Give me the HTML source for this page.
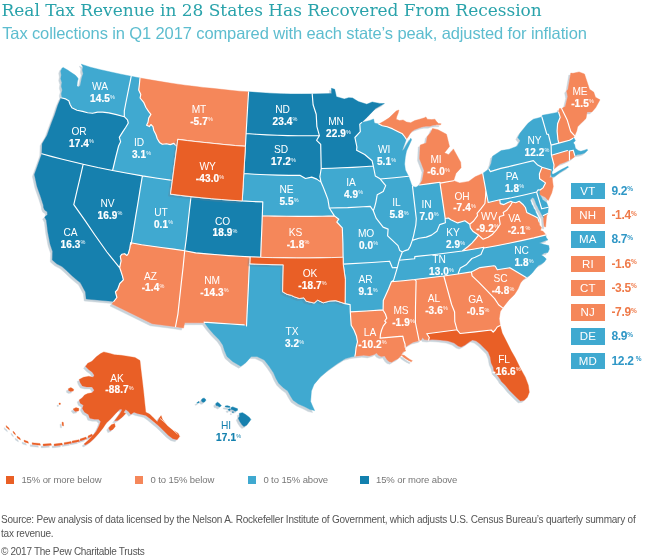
<!DOCTYPE html>
<html><head><meta charset="utf-8"><title>Real Tax Revenue</title>
<style>
html,body{margin:0;padding:0;background:#fff}
body{width:650px;height:558px;position:relative;overflow:hidden;font-family:"Liberation Sans",sans-serif}
.map{position:absolute;left:0;top:0}
h1{position:absolute;left:1.5px;top:-0.6px;margin:0;font:400 17px/22px "DejaVu Serif","Liberation Serif",serif;color:#2aa3ab;white-space:nowrap;letter-spacing:-.02px}
h2{position:absolute;left:2.2px;top:22.7px;margin:0;font:400 16.5px/20px "Liberation Sans",sans-serif;color:#5dbdcf;white-space:nowrap;letter-spacing:-.115px}
.lb{position:absolute;width:60px;text-align:center;color:#fff;white-space:nowrap}
.lb span{display:block;font-size:10.2px;line-height:12px;letter-spacing:-.1px;position:relative;top:.9px}
.lb b{display:block;font-size:10px;line-height:12px;letter-spacing:.15px;padding-left:5px;position:relative;top:0.6px;-webkit-text-stroke:.2px currentColor}
.lb sup{font-size:5.5px;vertical-align:top;position:relative;top:-.4px;line-height:8px;letter-spacing:0;-webkit-text-stroke:0;font-weight:normal}
.bv sup{font-size:6.5px;vertical-align:top;position:relative;top:1.6px;line-height:9px;letter-spacing:0}
.lb.hi{color:#1380ae}
.bx{position:absolute;left:570.8px;width:34.1px;height:16.6px;color:#fff;font-size:11.5px;line-height:17px;text-align:center;letter-spacing:.2px}
.bv{position:absolute;left:611.4px;font-size:12px;font-weight:bold;line-height:17px;white-space:nowrap;letter-spacing:-.3px}
.lg{position:absolute;top:474.1px;font-size:9.5px;line-height:12px;color:#777;white-space:nowrap;letter-spacing:-.1px}
.lg i{position:absolute;left:-15.9px;top:1.9px;width:8.5px;height:8.5px}
.src{position:absolute;left:1px;top:513.2px;font-size:10px;line-height:13.5px;color:#555;white-space:nowrap;letter-spacing:-.22px}
.cp{position:absolute;left:1px;top:544.8px;font-size:10px;line-height:13px;color:#555;white-space:nowrap;letter-spacing:-.29px}
</style></head><body>
<svg class="map" width="650" height="558" viewBox="0 0 650 558">
<defs><filter id="sh" x="-5%" y="-5%" width="110%" height="110%"><feGaussianBlur in="SourceAlpha" stdDeviation="0.7"/><feOffset dx="-1.8" dy="1.8" result="o"/><feFlood flood-color="#5f7f93" flood-opacity="0.34"/><feComposite in2="o" operator="in"/><feMerge><feMergeNode/><feMergeNode in="SourceGraphic"/></feMerge></filter></defs>
<g filter="url(#sh)">
<g stroke-width="0.4" stroke-linejoin="round">
<path d="M61.0 97.8L61.9 97.0L61.3 93.9L62.3 90.1L61.3 86.3L61.9 82.6L60.7 78.8L61.3 75.1L60.7 71.3L61.9 68.2L63.2 67.5L67.6 70.0L71.3 72.6L75.1 75.1L77.0 76.9L78.2 78.8L77.3 82.0L77.0 85.7L78.2 87.0L80.1 85.7L80.7 83.2L81.3 80.1L82.0 76.9L83.2 73.8L82.4 70.0L82.9 66.9L81.3 64.2L90.4 67.2L100.5 69.7L110.7 72.0L120.9 74.2L131.2 76.3L128.5 89.6L125.8 103.0L124.3 110.8L124.3 116.7L116.5 114.6L108.9 112.9L102.7 112.1L97.6 112.1L92.6 113.3L87.6 112.7L82.6 111.4L77.0 110.2L71.9 107.7L70.1 104.5L68.8 100.8L65.7 98.9L61.0 97.8Z" fill="#3fa9d0" stroke="#3fa9d0"/>
<path d="M41.8 153.8L42.1 143.8L47.1 135.2L51.3 123.5L54.8 114.4L57.8 105.3L61.0 97.8L65.7 98.9L68.8 100.8L70.1 104.5L71.9 107.7L77.0 110.2L82.6 111.4L87.6 112.7L92.6 113.3L97.6 112.1L102.7 112.1L108.9 112.9L116.5 114.6L124.3 116.7L127.5 119.8L128.3 123.0L125.8 127.3L122.9 131.6L119.3 137.4L120.6 141.7L118.6 146.0L115.8 157.0L112.6 170.5L97.8 167.5L83.2 164.2L72.8 161.8L62.4 159.2L52.1 156.6L41.8 153.8Z" fill="#1380ae" stroke="#1380ae"/>
<path d="M86.2 299.0L85.4 292.0L80.4 282.8L76.3 279.6L71.4 275.2L66.5 270.5L62.0 266.6L56.6 263.8L52.3 259.9L52.6 251.5L50.1 244.0L47.8 232.0L46.4 220.5L44.6 217.0L47.4 214.8L47.2 211.8L44.8 210.2L43.6 207.7L43.3 205.0L40.4 196.0L37.0 186.5L34.4 174.6L37.2 166.7L41.8 153.8L52.1 156.6L62.4 159.2L72.8 161.8L83.2 164.2L80.1 177.7L76.9 191.2L73.8 204.7L84.6 219.9L94.7 234.8L106.9 252.0L119.7 267.8L121.1 271.8L122.5 276.2L123.4 279.8L119.8 283.5L117.6 289.5L115.4 291.8L116.9 297.5L113.8 301.5L86.2 299.0Z" fill="#1380ae" stroke="#1380ae"/>
<path d="M119.7 267.8L106.9 252.0L94.7 234.8L84.6 219.9L73.8 204.7L76.9 191.2L80.1 177.7L83.2 164.2L97.8 167.5L112.6 170.5L127.5 173.3L142.4 175.9L140.1 189.6L137.9 203.3L135.6 216.9L133.4 230.6L131.1 244.3L130.7 242.7L129.8 248.4L128.4 253.5L126.9 255.5L124.7 253.7L121.8 254.2L120.3 256.4L121.1 260.8L120.3 264.5L119.7 267.8Z" fill="#1380ae" stroke="#1380ae"/>
<path d="M124.3 116.7L124.3 110.8L125.8 103.0L128.5 89.6L131.2 76.3L140.0 78.0L139.4 84.3L138.7 90.1L140.8 94.4L140.1 98.0L143.7 102.3L145.8 107.3L148.7 111.6L150.9 114.4L148.7 118.0L148.0 122.3L146.6 125.2L149.4 126.6L150.9 124.5L153.0 126.6L153.7 130.2L155.9 134.5L157.3 138.8L159.5 142.4L162.3 144.3L166.6 143.8L170.2 144.6L173.8 143.4L176.9 146.5L174.2 166.7L172.4 180.4L157.4 178.3L142.4 175.9L127.5 173.3L112.6 170.5L115.8 157.0L118.6 146.0L120.6 141.7L119.3 137.4L122.9 131.6L125.8 127.3L128.3 123.0L127.5 119.8L124.3 116.7Z" fill="#3fa9d0" stroke="#3fa9d0"/>
<path d="M176.9 146.5L173.8 143.4L170.2 144.6L166.6 143.8L162.3 144.3L159.5 142.4L157.3 138.8L155.9 134.5L153.7 130.2L153.0 126.6L150.9 124.5L149.4 126.6L146.6 125.2L148.0 122.3L148.7 118.0L150.9 114.4L148.7 111.6L145.8 107.3L143.7 102.3L140.1 98.0L140.8 94.4L138.7 90.1L139.4 84.3L140.0 78.0L148.9 79.6L157.9 81.1L166.9 82.6L176.0 83.9L185.0 85.2L194.0 86.3L203.1 87.4L212.2 88.3L221.3 89.3L230.3 90.3L239.4 91.2L248.6 91.8L247.7 105.7L246.9 119.6L246.1 133.5L245.4 146.3L235.7 145.6L226.0 144.7L216.4 143.7L206.7 142.7L197.1 141.7L187.4 140.6L177.8 139.4L176.9 146.5Z" fill="#f5875a" stroke="#f5875a"/>
<path d="M131.1 244.3L133.4 230.6L135.6 216.9L137.9 203.3L140.1 189.6L142.4 175.9L157.4 178.3L172.4 180.4L170.5 194.1L180.7 195.4L191.0 196.6L189.4 210.4L187.9 224.1L186.4 237.9L184.7 250.7L173.8 249.1L163.1 247.8L152.3 246.3L141.6 244.7L130.7 242.7Z" fill="#3fa9d0" stroke="#3fa9d0"/>
<path d="M191.0 196.6L201.2 197.7L211.4 198.7L221.6 199.5L231.9 200.3L242.2 200.9L252.4 201.5L262.8 201.9L262.3 215.8L261.8 229.6L261.2 243.5L260.7 257.3L260.8 257.3L250.3 256.9L239.4 256.3L228.5 255.6L217.5 254.8L206.6 253.9L195.7 252.9L184.7 250.7L186.4 237.9L187.9 224.1L189.4 210.4L191.0 196.6Z" fill="#1380ae" stroke="#1380ae"/>
<path d="M113.8 301.5L116.9 297.5L115.4 291.8L117.6 289.5L119.8 283.5L123.4 279.8L122.5 276.2L121.1 271.8L119.7 267.8L120.3 264.5L121.1 260.8L120.3 256.4L121.8 254.2L124.7 253.7L126.9 255.5L128.4 253.5L129.8 248.4L130.7 242.7L141.6 244.7L152.3 246.3L163.1 247.8L173.8 249.1L184.7 250.7L183.1 267.3L181.3 282.9L179.6 298.5L177.9 314.1L175.5 326.7L152.3 323.8L112.0 304.0L113.8 301.5Z" fill="#f5875a" stroke="#f5875a"/>
<path d="M175.5 326.7L177.9 314.1L179.6 298.5L181.3 282.9L183.1 267.3L184.7 250.7L195.7 252.9L206.6 253.9L217.5 254.8L228.5 255.6L239.4 256.3L250.3 256.9L250.0 263.8L249.4 263.8L248.7 279.4L248.0 294.9L247.2 310.5L246.5 326.0L244.2 324.9L230.8 324.0L217.5 323.1L204.2 322.1L204.5 322.7L184.7 322.8L183.5 328.1L175.5 326.7Z" fill="#f5875a" stroke="#f5875a"/>
<path d="M246.1 133.5L246.9 119.6L247.7 105.7L248.6 91.8L258.9 92.6L269.5 93.2L280.1 93.7L290.8 94.0L301.6 94.0L312.2 93.9L313.1 104.8L316.2 114.3L316.9 126.6L319.4 135.6L308.9 135.7L298.3 135.8L287.7 135.6L277.2 135.3L266.8 134.9L256.3 134.3L246.1 133.5Z" fill="#1380ae" stroke="#1380ae"/>
<path d="M245.4 146.3L246.1 133.5L256.3 134.3L266.8 134.9L277.2 135.3L287.7 135.6L298.3 135.8L308.9 135.7L319.4 135.6L316.6 140.3L320.7 144.3L321.2 168.5L319.9 176.6L321.0 182.1L316.8 179.1L311.7 177.1L305.5 178.5L300.3 175.4L288.9 175.4L277.4 175.1L266.1 174.7L254.8 174.2L243.8 173.5L244.6 159.9L245.4 146.3Z" fill="#1380ae" stroke="#1380ae"/>
<path d="M242.2 200.9L243.0 187.2L243.8 173.5L254.8 174.2L266.1 174.7L277.4 175.1L288.9 175.4L300.3 175.4L305.5 178.5L311.7 177.1L316.8 179.1L321.0 182.1L322.7 185.9L325.4 192.7L327.9 199.4L329.3 208.0L334.4 215.9L322.5 216.2L310.4 216.4L298.4 216.4L286.3 216.3L274.2 216.1L262.3 215.8L262.8 201.9L252.4 201.5L242.2 200.9Z" fill="#3fa9d0" stroke="#3fa9d0"/>
<path d="M260.7 257.3L261.2 243.5L261.8 229.6L262.3 215.8L274.2 216.1L286.3 216.3L298.4 216.4L310.4 216.4L322.5 216.2L334.4 215.9L338.8 219.2L336.8 222.0L342.3 227.8L342.9 243.3L343.1 257.2L331.5 257.6L319.8 257.9L308.0 258.0L296.2 258.0L284.4 257.9L272.5 257.7L260.8 257.3Z" fill="#f5875a" stroke="#f5875a"/>
<path d="M204.5 322.7L204.2 322.1L217.5 323.1L230.8 324.0L244.2 324.9L246.5 326.0L247.2 310.5L248.0 294.9L248.7 279.4L249.4 263.8L250.0 263.8L261.0 264.3L272.0 264.6L283.3 264.8L282.6 291.7L287.0 294.3L291.5 295.4L294.3 296.8L299.4 298.5L303.9 297.8L306.2 301.2L314.1 303.0L317.6 300.1L323.2 302.8L330.0 301.0L335.7 300.6L345.0 303.6L350.1 304.6L350.3 311.9L351.2 325.2L354.0 330.0L356.5 336.3L357.5 341.9L356.1 347.5L355.4 353.8L354.9 356.2L351.9 356.8L345.4 358.6L337.5 363.6L328.4 370.1L320.5 376.7L314.0 384.5L311.4 391.1L310.6 401.5L312.5 406.0L314.6 410.6L310.0 409.5L304.8 406.8L298.5 404.0L293.1 400.2L290.5 396.0L287.8 391.1L283.0 387.5L278.7 383.2L276.0 378.5L273.5 372.8L269.0 366.0L264.3 360.0L257.0 356.5L251.2 356.5L246.0 362.5L240.8 366.2L233.0 361.8L227.0 356.5L224.5 350.5L222.8 345.0L219.4 339.9L213.5 334.0L208.4 328.1L204.5 322.7Z" fill="#3fa9d0" stroke="#3fa9d0"/>
<path d="M319.4 135.6L316.9 126.6L316.2 114.3L313.1 104.8L312.2 93.9L331.6 93.5L331.4 88.3L334.7 89.3L336.4 96.7L344.3 99.0L348.8 97.7L352.5 97.9L358.3 101.6L366.8 104.2L372.2 102.0L379.7 103.4L384.4 103.6L375.5 108.5L366.9 117.4L361.6 122.6L359.8 124.1L360.3 131.6L354.9 137.5L356.9 147.0L356.6 150.3L364.7 154.5L372.1 160.8L373.3 166.0L362.9 166.8L352.6 167.4L342.2 167.8L331.8 168.2L321.2 168.5L320.7 144.3L316.6 140.3L319.4 135.6Z" fill="#1380ae" stroke="#1380ae"/>
<path d="M321.2 168.5L331.8 168.2L342.2 167.8L352.6 167.4L362.9 166.8L373.3 166.0L375.3 176.0L380.1 178.8L385.7 185.6L383.2 191.5L377.2 194.8L375.9 202.1L374.6 207.1L373.3 210.8L370.3 206.4L363.2 206.8L347.7 207.6L329.3 208.0L327.9 199.4L325.4 192.7L322.7 185.9L321.0 182.1L319.9 176.6L321.2 168.5Z" fill="#3fa9d0" stroke="#3fa9d0"/>
<path d="M329.3 208.0L347.7 207.6L363.2 206.8L370.3 206.4L373.3 210.8L376.1 218.1L383.1 227.1L388.1 229.1L387.6 235.8L392.2 240.2L398.0 245.6L399.8 250.6L402.3 252.0L399.2 260.3L397.4 267.4L392.4 267.8L389.6 261.2L371.8 262.5L343.2 264.1L343.1 257.2L342.9 243.3L342.3 227.8L336.8 222.0L338.8 219.2L334.4 215.9L329.3 208.0Z" fill="#3fa9d0" stroke="#3fa9d0"/>
<path d="M343.2 264.1L371.8 262.5L389.6 261.2L392.4 267.8L397.4 267.4L393.6 280.2L391.4 281.8L388.5 289.0L383.3 300.5L383.1 310.2L383.1 309.9L366.7 311.0L350.3 311.9L350.1 304.6L345.0 303.6L345.3 279.4L343.2 264.1Z" fill="#3fa9d0" stroke="#3fa9d0"/>
<path d="M350.3 311.9L366.7 311.0L383.1 309.9L383.1 310.2L385.4 314.0L386.8 318.2L384.7 321.0L386.1 322.4L383.3 325.9L381.6 330.0L380.5 334.2L380.1 338.1L402.8 336.1L403.8 340.5L405.0 344.0L405.2 347.3L405.0 349.2L405.7 351.0L402.9 352.0L401.5 354.5L403.2 357.0L405.7 358.7L408.5 360.4L411.3 361.8L412.4 360.8L409.9 359.4L407.1 357.6L404.6 355.6L402.2 354.8L400.1 356.6L398.0 358.7L395.2 360.1L391.7 362.2L388.9 361.5L386.8 359.4L384.7 355.9L381.2 356.6L378.4 355.2L376.6 353.1L374.2 354.5L369.3 355.9L363.8 355.2L358.2 355.9L354.9 356.2L355.4 353.8L356.1 347.5L357.5 341.9L356.5 336.3L354.0 330.0L351.2 325.2L350.3 311.9Z" fill="#f5875a" stroke="#f5875a"/>
<path d="M361.6 122.6L369.9 120.4L373.6 119.0L374.4 123.0L378.8 124.1L382.3 125.7L387.2 126.8L392.7 128.9L398.2 131.7L402.4 133.8L404.5 136.5L406.3 139.3L405.0 143.0L403.5 147.0L402.2 151.0L404.2 149.0L407.0 144.0L410.8 138.2L411.6 139.8L408.8 146.0L406.5 151.0L405.3 157.0L404.6 164.0L405.4 170.0L408.6 176.3L394.4 177.7L380.2 179.0L380.1 178.8L375.3 176.0L373.3 166.0L372.1 160.8L364.7 154.5L356.6 150.3L356.9 147.0L354.9 137.5L360.3 131.6L359.8 124.1L361.6 122.6Z" fill="#3fa9d0" stroke="#3fa9d0"/>
<path d="M380.2 179.0L394.4 177.7L408.6 176.3L411.6 184.7L412.5 186.4L416.3 218.8L415.8 225.1L413.7 235.1L412.3 240.4L410.2 246.2L408.2 249.6L405.2 250.6L402.3 252.0L399.8 250.6L398.0 245.6L392.2 240.2L387.6 235.8L388.1 229.1L383.1 227.1L376.1 218.1L373.3 210.8L374.6 207.1L375.9 202.1L377.2 194.8L383.2 191.5L385.7 185.6L380.1 178.8Z" fill="#3fa9d0" stroke="#3fa9d0"/>
<path d="M412.5 186.4L416.0 187.2L419.6 185.0L429.8 183.6L440.0 182.3L440.0 183.2L442.6 200.7L445.2 218.5L445.1 218.5L445.4 222.7L439.7 224.6L436.9 231.3L431.5 235.1L426.3 237.1L418.9 238.3L412.3 240.4L413.7 235.1L415.8 225.1L416.3 218.8L412.5 186.4Z" fill="#3fa9d0" stroke="#3fa9d0"/>
<path d="M378.8 124.1L383.7 121.3L389.2 117.8L392.7 114.4L396.2 110.9L398.9 110.0L398.2 113.0L396.8 116.5L396.2 119.2L399.6 120.6L403.1 119.9L406.5 122.0L410.7 122.7L414.8 120.6L419.7 119.2L424.5 117.8L425.9 116.9L427.3 119.2L431.5 119.6L434.9 119.2L436.3 121.3L438.4 123.4L441.2 123.8L440.5 124.8L437.0 124.8L432.8 125.2L430.1 126.2L425.9 126.2L421.8 127.1L418.3 128.2L414.8 129.6L412.1 131.3L410.0 133.8L407.9 137.2L406.3 139.3L404.5 136.5L402.4 133.8L398.2 131.7L392.7 128.9L387.2 126.8L382.3 125.7L378.8 124.1Z" fill="#f5875a" stroke="#f5875a"/>
<path d="M419.6 185.0L422.3 180.1L424.0 170.4L419.5 158.8L420.2 145.1L426.2 142.9L427.3 136.5L430.7 132.6L432.5 128.4L438.0 129.7L446.5 134.3L449.5 146.4L444.5 152.7L448.8 154.7L453.4 148.9L460.7 162.3L461.1 167.7L456.0 173.3L453.6 180.7L440.1 183.1L440.0 182.3L429.8 183.6L419.6 185.0Z" fill="#f5875a" stroke="#f5875a"/>
<path d="M440.1 183.1L453.6 180.7L459.7 182.9L468.7 181.4L475.1 176.8L482.7 173.4L485.8 190.1L485.6 196.3L484.9 203.5L481.0 208.7L477.1 213.3L477.5 215.7L473.6 221.0L469.8 224.2L464.9 220.8L457.7 222.9L450.8 219.8L448.4 218.0L445.1 218.5L445.2 218.5L442.6 200.7L440.0 183.2Z" fill="#f5875a" stroke="#f5875a"/>
<path d="M402.3 252.0L405.2 250.6L408.2 249.6L410.2 246.2L412.3 240.4L418.9 238.3L426.3 237.1L431.5 235.1L436.9 231.3L439.7 224.6L445.4 222.7L445.1 218.5L448.4 218.0L450.8 219.8L457.7 222.9L464.9 220.8L469.8 224.2L470.4 227.9L473.2 231.6L478.5 235.1L475.6 238.9L471.9 243.1L468.1 246.5L462.3 251.0L437.0 254.2L414.8 256.6L414.7 258.7L399.2 260.3L402.3 252.0Z" fill="#3fa9d0" stroke="#3fa9d0"/>
<path d="M399.2 260.3L414.7 258.7L414.8 256.6L437.0 254.2L462.3 251.0L473.0 249.2L483.9 247.3L483.9 247.5L480.9 254.6L475.2 257.3L471.9 258.5L466.1 264.8L460.3 268.0L458.0 274.0L443.8 276.0L429.3 277.8L414.8 279.5L403.2 280.7L391.4 281.8L393.6 280.2L397.4 267.4L399.2 260.3Z" fill="#3fa9d0" stroke="#3fa9d0"/>
<path d="M391.4 281.8L403.2 280.7L414.8 279.5L416.1 280.8L415.5 307.2L415.4 322.5L419.1 340.7L413.1 342.3L408.5 345.0L405.2 347.3L405.0 344.0L403.8 340.5L402.8 336.1L380.1 338.1L380.5 334.2L381.6 330.0L383.3 325.9L386.1 322.4L384.7 321.0L386.8 318.2L385.4 314.0L383.1 310.2L383.3 300.5L388.5 289.0L391.4 281.8Z" fill="#f5875a" stroke="#f5875a"/>
<path d="M414.8 279.5L429.3 277.8L443.8 276.0L451.6 304.5L454.6 312.0L454.8 321.7L457.1 329.8L442.0 331.8L426.8 333.7L429.3 337.5L428.6 340.1L424.2 339.6L422.6 337.6L421.2 339.9L419.1 340.7L415.4 322.5L415.5 307.2L416.1 280.8L414.8 279.5Z" fill="#f5875a" stroke="#f5875a"/>
<path d="M443.8 276.0L458.0 274.0L471.4 271.9L472.1 275.9L478.4 281.8L486.5 290.2L494.6 298.6L498.6 304.8L502.6 307.9L500.3 311.5L499.2 318.7L500.2 325.6L497.2 327.0L495.2 330.0L493.2 332.1L491.2 330.0L475.2 331.9L460.1 333.5L457.1 329.8L454.8 321.7L454.6 312.0L451.6 304.5L443.8 276.0Z" fill="#f5875a" stroke="#f5875a"/>
<path d="M428.6 340.1L429.3 337.5L426.8 333.7L442.0 331.8L457.1 329.8L460.1 333.5L475.2 331.9L491.2 330.0L493.2 332.1L495.2 330.0L497.2 327.0L500.2 325.6L502.2 333.1L506.3 341.1L511.3 351.1L515.3 358.1L520.3 368.2L525.3 377.2L528.3 385.2L529.3 392.2L527.3 397.2L524.3 400.3L520.3 400.9L517.3 398.2L513.3 394.2L509.3 390.2L505.3 385.2L501.2 381.2L500.2 379.2L497.2 375.2L494.2 372.2L493.2 367.2L491.2 363.1L490.2 357.1L488.2 352.1L484.2 348.1L480.2 344.1L476.2 341.1L472.6 340.1L469.1 342.1L465.1 345.1L461.1 347.1L458.1 346.1L454.1 343.1L448.1 341.1L440.1 340.1L432.0 339.5L428.6 340.1Z" fill="#e95f25" stroke="#e95f25"/>
<path d="M502.6 307.9L498.6 304.8L494.6 298.6L486.5 290.2L478.4 281.8L472.1 275.9L471.4 271.9L479.9 267.6L494.0 265.8L495.3 266.3L497.3 269.8L509.9 267.7L526.2 277.6L523.0 279.8L520.5 283.0L518.0 289.0L514.5 294.5L509.3 299.5L506.5 303.0L502.6 307.9Z" fill="#f5875a" stroke="#f5875a"/>
<path d="M458.0 274.0L460.3 268.0L466.1 264.8L471.9 258.5L475.2 257.3L480.9 254.6L483.9 247.5L483.9 248.0L496.5 245.7L509.0 243.2L521.4 240.6L533.8 237.9L546.1 234.9L545.9 237.0L547.9 240.0L544.3 241.0L539.3 243.0L544.3 244.4L548.7 245.6L549.3 249.1L547.9 252.5L544.3 253.1L541.3 255.1L544.3 257.1L546.3 259.1L544.3 262.1L541.3 264.1L538.3 265.5L535.3 269.1L532.2 273.1L529.2 275.7L526.2 277.6L509.9 267.7L497.3 269.8L495.3 266.3L494.0 265.8L479.9 267.6L471.4 271.9L458.0 274.0Z" fill="#3fa9d0" stroke="#3fa9d0"/>
<path d="M483.9 247.3L473.0 249.2L462.3 251.0L468.1 246.5L471.9 243.1L475.6 238.9L478.5 235.1L483.1 239.2L488.1 237.2L492.6 234.2L496.2 230.2L500.2 224.2L499.2 218.1L499.8 216.5L503.9 215.2L503.2 212.4L506.7 210.3L508.8 207.5L510.8 204.8L512.4 202.0L515.7 202.7L519.2 201.3L523.3 204.8L525.4 207.5L526.8 212.4L530.9 214.5L535.1 216.5L537.8 217.9L539.2 222.0L539.5 225.0L541.5 227.5L540.5 230.6L543.0 231.2L546.1 234.9L533.8 237.9L521.4 240.6L509.0 243.2L496.5 245.7L483.9 248.0Z" fill="#f5875a" stroke="#f5875a"/>
<path d="M543.4 215.4L543.6 220.0L544.2 226.6L545.6 227.0L546.2 220.0L546.6 216.0L547.7 213.4L543.4 215.4Z" fill="#f5875a" stroke="#f5875a"/>
<path d="M469.8 224.2L473.6 221.0L477.5 215.7L477.1 213.3L481.0 208.7L484.9 203.5L485.6 196.3L485.8 190.1L488.2 202.5L499.8 199.8L500.2 203.6L503.9 204.6L507.4 202.8L510.8 201.3L512.4 202.0L510.8 204.8L508.8 207.5L506.7 210.3L503.2 212.4L503.9 215.2L499.8 216.5L499.2 218.1L500.2 224.2L496.2 230.2L492.6 234.2L488.1 237.2L483.1 239.2L478.5 235.1L473.2 231.6L470.4 227.9L469.8 224.2Z" fill="#f5875a" stroke="#f5875a"/>
<path d="M499.8 199.8L511.5 197.8L524.1 195.0L536.6 192.0L541.7 208.8L548.4 207.2L547.7 213.4L543.4 215.4L543.6 217.6L542.3 215.6L541.1 213.5L539.9 211.0L538.7 209.3L537.7 206.8L536.3 204.5L535.5 202.0L534.1 198.5L532.3 197.6L530.2 199.9L531.1 202.0L531.6 204.1L532.9 206.0L533.7 208.2L535.1 210.0L535.8 212.4L537.8 216.5L539.1 219.5L539.2 222.0L537.8 217.9L535.1 216.5L530.9 214.5L526.8 212.4L525.4 207.5L523.3 204.8L519.2 201.3L515.7 202.7L512.4 202.0L510.8 201.3L507.4 202.8L503.9 204.6L500.2 203.6L499.8 199.8Z" fill="#3fa9d0" stroke="#3fa9d0"/>
<path d="M536.6 192.0L538.1 189.9L540.1 190.0L539.8 194.4L542.6 199.4L546.7 202.7L548.4 207.2L541.7 208.8L536.6 192.0Z" fill="#3fa9d0" stroke="#3fa9d0"/>
<path d="M482.7 173.4L488.9 169.0L490.3 171.6L500.8 168.4L511.7 165.9L522.6 163.3L533.4 160.6L537.7 165.1L542.0 167.3L539.4 173.9L539.6 178.8L545.5 182.9L543.0 187.9L540.1 190.0L538.1 189.9L536.6 192.0L524.1 195.0L511.5 197.8L499.8 199.8L488.2 202.5L485.8 190.1L482.7 173.4Z" fill="#3fa9d0" stroke="#3fa9d0"/>
<path d="M540.1 190.0L543.0 187.9L545.5 182.9L539.6 178.8L539.4 173.9L542.0 167.3L551.2 170.0L550.8 174.4L549.5 177.6L552.1 177.6L553.3 186.6L551.8 192.8L548.3 200.4L545.3 197.3L539.8 194.4L540.1 190.0Z" fill="#f5875a" stroke="#f5875a"/>
<path d="M488.9 169.0L491.2 163.2L492.6 156.2L497.2 153.2L501.2 150.6L509.2 149.2L517.2 146.2L520.2 140.7L517.8 137.5L520.2 133.1L524.3 128.1L528.3 123.1L533.3 119.2L541.9 117.0L545.3 128.8L546.8 134.1L548.4 134.4L551.1 145.1L551.4 154.9L554.0 164.9L553.6 169.3L552.2 171.2L551.9 173.5L553.0 174.3L555.4 173.0L560.9 169.8L567.8 166.3L568.6 167.2L565.1 169.3L559.5 172.7L554.7 176.5L551.9 177.0L550.9 175.0L551.2 170.0L542.0 167.3L537.7 165.1L533.4 160.6L522.6 163.3L511.7 165.9L500.8 168.4L490.3 171.6L488.9 169.0Z" fill="#3fa9d0" stroke="#3fa9d0"/>
<path d="M553.6 169.3L554.0 164.9L551.4 154.9L551.5 155.2L567.4 150.5L569.4 151.0L569.5 160.1L565.5 161.9L559.9 164.0L553.6 169.3Z" fill="#f5875a" stroke="#f5875a"/>
<path d="M569.5 160.1L569.4 151.0L573.2 150.2L574.9 155.9L573.4 157.8L569.5 160.1Z" fill="#f5875a" stroke="#f5875a"/>
<path d="M551.4 154.9L551.1 145.1L558.8 143.1L569.5 140.2L572.6 138.4L574.0 137.9L575.4 140.7L573.3 142.8L574.7 144.8L575.4 148.3L578.2 150.4L580.9 151.3L584.4 150.2L587.2 149.2L587.6 150.4L584.6 153.0L580.9 154.2L577.5 154.6L574.9 155.9L573.2 150.2L569.4 151.0L567.4 150.5L551.5 155.2Z" fill="#3fa9d0" stroke="#3fa9d0"/>
<path d="M551.1 145.1L548.4 134.4L546.8 134.1L545.3 128.8L541.9 117.0L542.2 115.3L558.6 112.2L560.2 117.3L557.6 123.8L557.1 131.1L557.9 139.4L558.8 143.1L551.1 145.1Z" fill="#3fa9d0" stroke="#3fa9d0"/>
<path d="M558.8 143.1L557.9 139.4L557.1 131.1L557.6 123.8L560.2 117.3L558.6 112.2L559.3 108.6L561.6 108.6L567.1 119.7L570.7 131.5L574.7 135.8L572.6 138.4L569.5 140.2L558.8 143.1Z" fill="#f5875a" stroke="#f5875a"/>
<path d="M561.6 108.6L565.3 106.6L567.7 96.5L566.6 91.1L568.0 89.3L570.8 73.1L573.0 73.3L579.1 71.9L584.5 74.0L589.5 89.2L593.7 92.1L595.5 97.3L600.0 99.8L595.6 107.8L591.9 111.9L587.1 112.1L586.0 118.5L580.7 123.6L577.6 126.8L576.8 130.7L574.7 135.8L570.7 131.5L567.1 119.7L561.6 108.6Z" fill="#f5875a" stroke="#f5875a"/>
</g>
<g class="akhi"><path d="M103.8 351.9L109.2 353.2L114.6 354.7L121.1 355.3L127.5 356.2L135.1 357.5L140.0 360.5L140.9 368.7L142.2 379.5L143.7 392.4L144.8 403.2L145.8 412.2L149.5 413.9L153.4 417.8L157.3 421.7L159.4 417.8L161.1 415.6L162.4 419.3L167.4 425.8L172.8 430.1L178.1 433.3L179.7 436.5L177.1 439.8L172.8 438.7L168.5 435.5L164.2 431.2L160.9 427.9L157.7 425.1L153.4 421.5L149.5 418.2L145.8 415.6L141.5 414.4L137.2 413.5L134.0 412.2L130.8 414.4L128.6 411.8L125.8 409.6L123.7 412.2L125.8 413.5L122.2 417.2L117.8 420.4L114.6 420.8L117.2 417.2L120.0 413.5L122.2 409.6L120.0 409.2L115.7 413.5L111.4 418.2L106.4 423.0L102.8 428.4L98.5 433.7L94.2 438.5L89.8 442.4L85.5 444.9L84.0 444.1L87.7 440.8L92.0 436.5L96.3 431.2L99.1 425.8L100.6 421.5L98.5 419.3L94.2 419.3L89.8 418.2L88.3 414.4L84.5 412.2L82.3 408.5L83.4 405.3L80.2 403.2L79.1 399.9L82.3 397.8L84.5 395.0L87.7 393.5L92.0 392.8L94.2 390.2L92.0 387.0L86.6 387.0L82.3 385.9L80.2 382.7L79.1 379.5L83.4 377.3L88.8 376.2L93.1 377.3L94.2 375.2L92.0 371.9L88.8 369.8L85.5 366.5L87.7 363.3L92.0 361.2L96.3 356.8L100.6 353.6Z M108.6 427.9L111.4 424.7L114.6 423.6L115.3 426.4L112.9 429.4L109.9 430.7Z M68.3 388.7L70.9 387.6L73.7 389.2L73.3 391.1L70.5 391.5L68.5 390.4Z M73.0 409.0L76.0 407.6L79.0 408.6L78.6 411.0L75.0 411.4Z M59.0 403.0L60.4 403.0L60.4 404.4L59.0 404.4Z M62.0 422.0L63.4 422.4L63.6 426.0L62.2 425.6Z M88.0 436.1L92.0 434.1L92.5 435.9L88.3 437.9Z M80.0 439.1L86.0 437.1L86.5 438.9L80.3 440.9Z M72.0 441.1L79.0 439.7L79.5 441.5L72.3 442.9Z M64.0 442.7L71.0 441.5L71.5 443.3L64.3 444.5Z M54.0 444.1L62.0 443.1L62.5 444.9L54.3 445.9Z M43.0 444.1L51.0 443.5L51.5 445.3L43.3 445.9Z M32.0 442.7L40.0 443.5L40.5 445.3L32.3 444.5Z M24.0 440.1L28.0 441.5L28.5 443.3L24.3 441.9Z M17.0 436.1L20.0 438.1L20.5 439.9L17.3 437.9Z M13.0 431.1L15.0 433.1L15.5 434.9L13.3 432.9Z M6.0 425.5L9.0 428.1L9.5 429.9L6.3 427.3Z" fill="#e95f25" stroke="#e95f25" stroke-width="0.3"/>
<path d="M160 418.4L166 423.4L172.5 429.6L177.6 434.2" fill="none" stroke="#fff" stroke-width="0.7"/>
<path d="M199.1 401.8L199.1 402.4L198.5 403.0L197.8 403.3L197.2 403.1L197.2 402.5L197.8 401.9L198.5 401.6Z M205.5 399.2L205.7 400.4L205.0 401.5L203.8 402.2L202.5 402.1L201.6 401.3L201.4 400.1L202.1 398.9L203.3 398.3L204.6 398.4Z M215.7 403.7L217.5 402.3L219.6 403.7L221.3 405.8L219.6 406.9L217.5 405.8L216.2 405.5Z M225.2 406.0L227.6 405.8L230.0 406.6L229.6 407.4L227.2 407.2L225.4 406.9Z M230.4 409.6L230.1 410.3L229.3 410.6L228.5 410.3L228.2 409.6L228.5 409.0L229.3 408.7L230.1 409.0Z M230.7 407.8L232.8 406.9L234.8 407.8L237.6 408.8L237.3 410.6L235.1 411.3L233.2 409.9L231.4 409.6Z M233.7 412.1L233.3 412.6L232.5 412.6L232.1 412.1L232.5 411.7L233.3 411.7Z M239.3 413.4L242.5 412.7L245.9 414.8L249.4 417.5L250.8 419.6L248.7 422.4L246.6 425.2L243.8 426.5L241.8 424.5L239.7 421.3L238.3 418.2L239.7 416.2Z" fill="#1380ae" stroke="#1380ae" stroke-width="0.5" stroke-linejoin="round"/>
</g>
</g>
<path d="M131.2 76.3L128.5 89.6L125.8 103.0L124.3 110.8L124.3 116.7 M61.0 97.8L65.7 98.9L68.8 100.8L70.1 104.5L71.9 107.7L77.0 110.2L82.6 111.4L87.6 112.7L92.6 113.3L97.6 112.1L102.7 112.1L108.9 112.9L116.5 114.6L124.3 116.7 M124.3 116.7L127.5 119.8L128.3 123.0L125.8 127.3L122.9 131.6L119.3 137.4L120.6 141.7L118.6 146.0L115.8 157.0L112.6 170.5 M83.2 164.2L97.8 167.5L112.6 170.5 M41.8 153.8L52.1 156.6L62.4 159.2L72.8 161.8L83.2 164.2 M83.2 164.2L80.1 177.7L76.9 191.2L73.8 204.7L84.6 219.9L94.7 234.8L106.9 252.0L119.7 267.8 M119.7 267.8L121.1 271.8L122.5 276.2L123.4 279.8L119.8 283.5L117.6 289.5L115.4 291.8L116.9 297.5L113.8 301.5 M112.6 170.5L127.5 173.3L142.4 175.9 M142.4 175.9L140.1 189.6L137.9 203.3L135.6 216.9L133.4 230.6L131.1 244.3 M119.7 267.8L120.3 264.5L121.1 260.8L120.3 256.4L121.8 254.2L124.7 253.7L126.9 255.5L128.4 253.5L129.8 248.4L130.7 242.7 M176.9 146.5L173.8 143.4L170.2 144.6L166.6 143.8L162.3 144.3L159.5 142.4L157.3 138.8L155.9 134.5L153.7 130.2L153.0 126.6L150.9 124.5L149.4 126.6L146.6 125.2L148.0 122.3L148.7 118.0L150.9 114.4L148.7 111.6L145.8 107.3L143.7 102.3L140.1 98.0L140.8 94.4L138.7 90.1L139.4 84.3L140.0 78.0 M172.4 180.4L174.2 166.7L176.9 146.5 M142.4 175.9L157.4 178.3L172.4 180.4 M246.1 133.5L246.9 119.6L247.7 105.7L248.6 91.8 M245.4 146.3L246.1 133.5 M177.8 139.4L187.4 140.6L197.1 141.7L206.7 142.7L216.4 143.7L226.0 144.7L235.7 145.6L245.4 146.3 M176.9 146.5L177.8 139.4 M245.4 146.3L244.6 159.9L243.8 173.5 M243.8 173.5L243.0 187.2L242.2 200.9 M191.0 196.6L201.2 197.7L211.4 198.7L221.6 199.5L231.9 200.3L242.2 200.9 M170.5 194.1L180.7 195.4L191.0 196.6 M172.4 180.4L170.5 194.1 M191.0 196.6L189.4 210.4L187.9 224.1L186.4 237.9L184.7 250.7 M130.7 242.7L141.6 244.7L152.3 246.3L163.1 247.8L173.8 249.1L184.7 250.7 M242.2 200.9L252.4 201.5L262.8 201.9 M262.3 215.8L262.8 201.9 M260.7 257.3L261.2 243.5L261.8 229.6L262.3 215.8 M250.3 256.9L260.8 257.3 M184.7 250.7L195.7 252.9L206.6 253.9L217.5 254.8L228.5 255.6L239.4 256.3L250.3 256.9 M184.7 250.7L183.1 267.3L181.3 282.9L179.6 298.5L177.9 314.1L175.5 326.7 M250.0 263.8L250.3 256.9 M246.5 326.0L247.2 310.5L248.0 294.9L248.7 279.4L249.4 263.8 M204.2 322.1L217.5 323.1L230.8 324.0L244.2 324.9 M204.5 322.7L204.2 322.1 M319.4 135.6L316.9 126.6L316.2 114.3L313.1 104.8L312.2 93.9 M246.1 133.5L256.3 134.3L266.8 134.9L277.2 135.3L287.7 135.6L298.3 135.8L308.9 135.7L319.4 135.6 M321.2 168.5L320.7 144.3L316.6 140.3L319.4 135.6 M321.0 182.1L319.9 176.6L321.2 168.5 M243.8 173.5L254.8 174.2L266.1 174.7L277.4 175.1L288.9 175.4L300.3 175.4L305.5 178.5L311.7 177.1L316.8 179.1L321.0 182.1 M329.3 208.0L327.9 199.4L325.4 192.7L322.7 185.9L321.0 182.1 M334.4 215.9L329.3 208.0 M262.3 215.8L274.2 216.1L286.3 216.3L298.4 216.4L310.4 216.4L322.5 216.2L334.4 215.9 M343.1 257.2L342.9 243.3L342.3 227.8L336.8 222.0L338.8 219.2L334.4 215.9 M260.8 257.3L272.5 257.7L284.4 257.9L296.2 258.0L308.0 258.0L319.8 257.9L331.5 257.6L343.1 257.2 M343.2 264.1L343.1 257.2 M345.0 303.6L345.3 279.4L343.2 264.1 M282.6 291.7L287.0 294.3L291.5 295.4L294.3 296.8L299.4 298.5L303.9 297.8L306.2 301.2L314.1 303.0L317.6 300.1L323.2 302.8L330.0 301.0L335.7 300.6L345.0 303.6 M283.3 264.8L282.6 291.7 M250.0 263.8L261.0 264.3L272.0 264.6L283.3 264.8 M350.3 311.9L350.1 304.6L345.0 303.6 M354.9 356.2L355.4 353.8L356.1 347.5L357.5 341.9L356.5 336.3L354.0 330.0L351.2 325.2L350.3 311.9 M361.6 122.6L359.8 124.1L360.3 131.6L354.9 137.5L356.9 147.0L356.6 150.3L364.7 154.5L372.1 160.8L373.3 166.0 M321.2 168.5L331.8 168.2L342.2 167.8L352.6 167.4L362.9 166.8L373.3 166.0 M373.3 166.0L375.3 176.0L380.1 178.8 M380.1 178.8L385.7 185.6L383.2 191.5L377.2 194.8L375.9 202.1L374.6 207.1L373.3 210.8 M329.3 208.0L347.7 207.6L363.2 206.8L370.3 206.4L373.3 210.8 M373.3 210.8L376.1 218.1L383.1 227.1L388.1 229.1L387.6 235.8L392.2 240.2L398.0 245.6L399.8 250.6L402.3 252.0 M402.3 252.0L399.2 260.3 M399.2 260.3L397.4 267.4 M343.2 264.1L371.8 262.5L389.6 261.2L392.4 267.8L397.4 267.4 M397.4 267.4L393.6 280.2L391.4 281.8 M391.4 281.8L388.5 289.0L383.3 300.5L383.1 310.2 M350.3 311.9L366.7 311.0L383.1 309.9 M383.1 310.2L385.4 314.0L386.8 318.2L384.7 321.0L386.1 322.4L383.3 325.9L381.6 330.0L380.5 334.2L380.1 338.1 M380.1 338.1L402.8 336.1 M402.8 336.1L403.8 340.5L405.0 344.0L405.2 347.3 M378.8 124.1L382.3 125.7L387.2 126.8L392.7 128.9L398.2 131.7L402.4 133.8L404.5 136.5L406.3 139.3 M380.2 179.0L394.4 177.7L408.6 176.3 M412.3 240.4L413.7 235.1L415.8 225.1L416.3 218.8L412.5 186.4 M412.3 240.4L410.2 246.2L408.2 249.6L405.2 250.6L402.3 252.0 M419.6 185.0L429.8 183.6L440.0 182.3 M440.0 183.2L442.6 200.7L445.2 218.5 M445.1 218.5L445.4 222.7L439.7 224.6L436.9 231.3L431.5 235.1L426.3 237.1L418.9 238.3L412.3 240.4 M440.1 183.1L453.6 180.7 M482.7 173.4L485.8 190.1 M485.8 190.1L485.6 196.3L484.9 203.5L481.0 208.7L477.1 213.3L477.5 215.7L473.6 221.0L469.8 224.2 M469.8 224.2L464.9 220.8L457.7 222.9L450.8 219.8L448.4 218.0L445.1 218.5 M478.5 235.1L473.2 231.6L470.4 227.9L469.8 224.2 M462.3 251.0L468.1 246.5L471.9 243.1L475.6 238.9L478.5 235.1 M462.3 251.0L437.0 254.2L414.8 256.6L414.7 258.7L399.2 260.3 M483.9 247.3L473.0 249.2L462.3 251.0 M483.9 247.5L480.9 254.6L475.2 257.3L471.9 258.5L466.1 264.8L460.3 268.0L458.0 274.0 M443.8 276.0L458.0 274.0 M414.8 279.5L429.3 277.8L443.8 276.0 M391.4 281.8L403.2 280.7L414.8 279.5 M419.1 340.7L415.4 322.5L415.5 307.2L416.1 280.8L414.8 279.5 M457.1 329.8L454.8 321.7L454.6 312.0L451.6 304.5L443.8 276.0 M426.8 333.7L442.0 331.8L457.1 329.8 M428.6 340.1L429.3 337.5L426.8 333.7 M458.0 274.0L471.4 271.9 M502.6 307.9L498.6 304.8L494.6 298.6L486.5 290.2L478.4 281.8L472.1 275.9L471.4 271.9 M457.1 329.8L460.1 333.5L475.2 331.9L491.2 330.0L493.2 332.1L495.2 330.0L497.2 327.0L500.2 325.6 M526.2 277.6L509.9 267.7L497.3 269.8L495.3 266.3L494.0 265.8L479.9 267.6L471.4 271.9 M546.1 234.9L533.8 237.9L521.4 240.6L509.0 243.2L496.5 245.7L483.9 248.0 M512.4 202.0L510.8 204.8L508.8 207.5L506.7 210.3L503.2 212.4L503.9 215.2L499.8 216.5L499.2 218.1L500.2 224.2L496.2 230.2L492.6 234.2L488.1 237.2L483.1 239.2L478.5 235.1 M512.4 202.0L515.7 202.7L519.2 201.3L523.3 204.8L525.4 207.5L526.8 212.4L530.9 214.5L535.1 216.5L537.8 217.9L539.2 222.0 M543.4 215.4L547.7 213.4 M488.2 202.5L485.8 190.1 M499.8 199.8L488.2 202.5 M499.8 199.8L500.2 203.6L503.9 204.6L507.4 202.8L510.8 201.3L512.4 202.0 M536.6 192.0L524.1 195.0L511.5 197.8L499.8 199.8 M548.4 207.2L541.7 208.8L536.6 192.0 M540.1 190.0L538.1 189.9L536.6 192.0 M488.9 169.0L490.3 171.6 M490.3 171.6L500.8 168.4L511.7 165.9L522.6 163.3L533.4 160.6 M533.4 160.6L537.7 165.1L542.0 167.3 M542.0 167.3L539.4 173.9L539.6 178.8L545.5 182.9L543.0 187.9L540.1 190.0 M551.2 170.0L542.0 167.3 M541.9 117.0L545.3 128.8L546.8 134.1L548.4 134.4L551.1 145.1 M551.1 145.1L551.4 154.9 M551.4 154.9L554.0 164.9L553.6 169.3 M567.4 150.5L551.5 155.2 M569.5 160.1L569.4 151.0 M574.9 155.9L573.2 150.2L569.4 151.0 M558.8 143.1L551.1 145.1 M572.6 138.4L569.5 140.2L558.8 143.1 M558.6 112.2L560.2 117.3L557.6 123.8L557.1 131.1L557.9 139.4L558.8 143.1 M561.6 108.6L567.1 119.7L570.7 131.5L574.7 135.8" fill="none" stroke="#fff" stroke-width="1.15" stroke-linejoin="round" stroke-linecap="round"/>
<g filter="url(#sh)"><path d="M176.9 146.5L177.8 139.4L187.4 140.6L197.1 141.7L206.7 142.7L216.4 143.7L226.0 144.7L235.7 145.6L245.4 146.3L244.6 159.9L243.8 173.5L243.0 187.2L242.2 200.9L231.9 200.3L221.6 199.5L211.4 198.7L201.2 197.7L191.0 196.6L180.7 195.4L170.5 194.1L172.4 180.4L174.2 166.7L176.9 146.5Z" fill="#e95f25" stroke="#fff" stroke-width="0.8" stroke-linejoin="round"/><path d="M250.0 263.8L250.3 256.9L260.8 257.3L272.5 257.7L284.4 257.9L296.2 258.0L308.0 258.0L319.8 257.9L331.5 257.6L343.1 257.2L343.2 264.1L345.3 279.4L345.0 303.6L335.7 300.6L330.0 301.0L323.2 302.8L317.6 300.1L314.1 303.0L306.2 301.2L303.9 297.8L299.4 298.5L294.3 296.8L291.5 295.4L287.0 294.3L282.6 291.7L283.3 264.8L272.0 264.6L261.0 264.3L250.0 263.8Z" fill="#e95f25" stroke="#fff" stroke-width="0.8" stroke-linejoin="round"/></g>
</svg>
<h1>Real Tax Revenue in 28 States Has Recovered From Recession</h1>
<h2>Tax collections in Q1 2017 compared with each state’s peak, adjusted for inflation</h2>
<div class="lb" style="left:70.0px;top:80.5px"><span>WA</span><b>14.5<sup>%</sup></b></div>
<div class="lb" style="left:49.0px;top:125.0px"><span>OR</span><b>17.4<sup>%</sup></b></div>
<div class="lb" style="left:109.0px;top:136.5px"><span>ID</span><b>3.1<sup>%</sup></b></div>
<div class="lb" style="left:169.0px;top:103.0px"><span>MT</span><b>-5.7<sup>%</sup></b></div>
<div class="lb" style="left:177.5px;top:160.5px"><span>WY</span><b>-43.0<sup>%</sup></b></div>
<div class="lb" style="left:252.5px;top:103.0px"><span>ND</span><b>23.4<sup>%</sup></b></div>
<div class="lb" style="left:251.0px;top:143.5px"><span>SD</span><b>17.2<sup>%</sup></b></div>
<div class="lb" style="left:256.5px;top:183.5px"><span>NE</span><b>5.5<sup>%</sup></b></div>
<div class="lb" style="left:77.5px;top:197.0px"><span>NV</span><b>16.9<sup>%</sup></b></div>
<div class="lb" style="left:131.0px;top:206.0px"><span>UT</span><b>0.1<sup>%</sup></b></div>
<div class="lb" style="left:192.5px;top:214.7px"><span>CO</span><b>18.9<sup>%</sup></b></div>
<div class="lb" style="left:40.5px;top:226.0px"><span>CA</span><b>16.3<sup>%</sup></b></div>
<div class="lb" style="left:265.5px;top:226.0px"><span>KS</span><b>-1.8<sup>%</sup></b></div>
<div class="lb" style="left:120.5px;top:269.7px"><span>AZ</span><b>-1.4<sup>%</sup></b></div>
<div class="lb" style="left:182.0px;top:274.0px"><span>NM</span><b>-14.3<sup>%</sup></b></div>
<div class="lb" style="left:280.0px;top:267.0px"><span>OK</span><b>-18.7<sup>%</sup></b></div>
<div class="lb" style="left:306.0px;top:115.5px"><span>MN</span><b>22.9<sup>%</sup></b></div>
<div class="lb" style="left:354.0px;top:143.5px"><span>WI</span><b>5.1<sup>%</sup></b></div>
<div class="lb" style="left:406.0px;top:153.5px"><span>MI</span><b>-6.0<sup>%</sup></b></div>
<div class="lb" style="left:321.0px;top:176.0px"><span>IA</span><b>4.9<sup>%</sup></b></div>
<div class="lb" style="left:366.5px;top:196.5px"><span>IL</span><b>5.8<sup>%</sup></b></div>
<div class="lb" style="left:396.5px;top:198.0px"><span>IN</span><b>7.0<sup>%</sup></b></div>
<div class="lb" style="left:432.0px;top:189.7px"><span>OH</span><b>-7.4<sup>%</sup></b></div>
<div class="lb" style="left:482.0px;top:170.0px"><span>PA</span><b>1.8<sup>%</sup></b></div>
<div class="lb" style="left:504.5px;top:134.0px"><span>NY</span><b>12.2<sup>%</sup></b></div>
<div class="lb" style="left:550.0px;top:85.1px"><span>ME</span><b>-1.5<sup>%</sup></b></div>
<div class="lb" style="left:459.0px;top:210.0px"><span>WV</span><b style="margin-left:-8px">-9.2<sup>%</sup></b></div>
<div class="lb" style="left:484.5px;top:212.0px"><span>VA</span><b style="margin-left:4px">-2.1<sup>%</sup></b></div>
<div class="lb" style="left:423.0px;top:226.5px"><span>KY</span><b>2.9<sup>%</sup></b></div>
<div class="lb" style="left:336.0px;top:227.0px"><span>MO</span><b>0.0<sup>%</sup></b></div>
<div class="lb" style="left:491.5px;top:244.5px"><span>NC</span><b>1.8<sup>%</sup></b></div>
<div class="lb" style="left:409.0px;top:253.5px"><span>TN</span><b>13.0<sup>%</sup></b></div>
<div class="lb" style="left:335.5px;top:273.3px"><span>AR</span><b>9.1<sup>%</sup></b></div>
<div class="lb" style="left:470.5px;top:272.5px"><span>SC</span><b>-4.8<sup>%</sup></b></div>
<div class="lb" style="left:404.0px;top:292.0px"><span>AL</span><b>-3.6<sup>%</sup></b></div>
<div class="lb" style="left:445.5px;top:293.5px"><span>GA</span><b>-0.5<sup>%</sup></b></div>
<div class="lb" style="left:371.0px;top:304.5px"><span>MS</span><b>-1.9<sup>%</sup></b></div>
<div class="lb" style="left:340.0px;top:326.0px"><span>LA</span><b>-10.2<sup>%</sup></b></div>
<div class="lb" style="left:474.0px;top:353.0px"><span>FL</span><b>-16.6<sup>%</sup></b></div>
<div class="lb" style="left:262.0px;top:325.5px"><span>TX</span><b>3.2<sup>%</sup></b></div>
<div class="lb" style="left:87.0px;top:371.8px"><span>AK</span><b>-88.7<sup>%</sup></b></div>
<div class="lb hi" style="left:196.1px;top:419.3px"><span>HI</span><b>17.1<sup>%</sup></b></div>
<div class="bx" style="top:182.8px;background:#3fa9d0">VT</div><div class="bv" style="top:182.8px;color:#2f97c6">9.2<sup>%</sup></div>
<div class="bx" style="top:207.1px;background:#f5875a">NH</div><div class="bv" style="top:207.1px;color:#ef7a49">-1.4<sup>%</sup></div>
<div class="bx" style="top:231.3px;background:#3fa9d0">MA</div><div class="bv" style="top:231.3px;color:#2f97c6">8.7<sup>%</sup></div>
<div class="bx" style="top:255.6px;background:#f5875a">RI</div><div class="bv" style="top:255.6px;color:#ef7a49">-1.6<sup>%</sup></div>
<div class="bx" style="top:279.9px;background:#f5875a">CT</div><div class="bv" style="top:279.9px;color:#ef7a49">-3.5<sup>%</sup></div>
<div class="bx" style="top:304.1px;background:#f5875a">NJ</div><div class="bv" style="top:304.1px;color:#ef7a49">-7.9<sup>%</sup></div>
<div class="bx" style="top:328.4px;background:#3fa9d0">DE</div><div class="bv" style="top:328.4px;color:#2f97c6">8.9<sup>%</sup></div>
<div class="bx" style="top:352.7px;background:#3fa9d0">MD</div><div class="bv" style="top:352.7px;color:#2f97c6">12.2&#8201;<sup>%</sup></div>
<div class="lg" style="left:21.4px"><i style="background:#e95f25"></i>15% or more below</div>
<div class="lg" style="left:150.6px"><i style="background:#f5875a"></i>0 to 15% below</div>
<div class="lg" style="left:263.4px"><i style="background:#3fa9d0"></i>0 to 15% above</div>
<div class="lg" style="left:376px"><i style="background:#1380ae"></i>15% or more above</div>
<div class="src">Source: Pew analysis of data licensed by the Nelson A. Rockefeller Institute of Government, which adjusts U.S. Census Bureau’s quarterly summary of<br>tax revenue.</div>
<div class="cp">© 2017 The Pew Charitable Trusts</div>
</body></html>
